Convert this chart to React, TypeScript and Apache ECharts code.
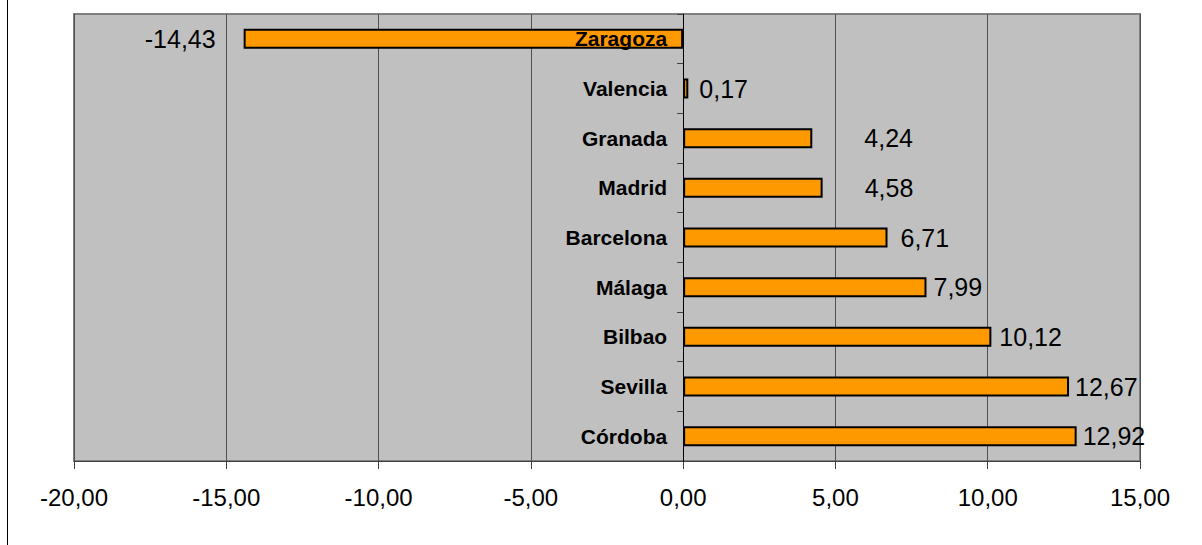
import React, { useEffect, useRef } from "react";
import * as echarts from "echarts";

const cities = ["Zaragoza", "Valencia", "Granada", "Madrid", "Barcelona", "Málaga", "Bilbao", "Sevilla", "Córdoba"];
const values = [-14.43, 0.17, 4.24, 4.58, 6.71, 7.99, 10.12, 12.67, 12.92];
const labelDistances = [28, 11, 52, 42, 13, 7, 8, 6, 6];
const xMin = -20;
const xMax = 15;
const xInterval = 5;

const FONT = 'Arial, "Liberation Sans", sans-serif';
const fmt = (v: number) => v.toFixed(2).replace(".", ",");

const GRID_LEFT = 74;
const GRID_RIGHT = 62;
const PLOT_W = 1202 - GRID_LEFT - GRID_RIGHT;

export default function App() {
  const ref = useRef<HTMLDivElement>(null);
  useEffect(() => {
    document.body.style.margin = "0";
    const chart = echarts.init(ref.current!, null, { renderer: "svg" });
    const zeroOffset = ((0 - xMin) / (xMax - xMin)) * PLOT_W;
    chart.setOption({
      animation: false,
      backgroundColor: "#ffffff",
      textStyle: { fontFamily: FONT },
      graphic: [
        { type: "line", shape: { x1: 7.5, y1: 0, x2: 7.5, y2: 545 }, style: { stroke: "#000", lineWidth: 1 } },
      ],
      grid: {
        left: GRID_LEFT,
        right: GRID_RIGHT,
        top: 14,
        bottom: 84,
        containLabel: false,
        outerBoundsMode: "none",
        show: true,
        backgroundColor: "#C0C0C0",
        borderColor: "#808080",
        borderWidth: 2,
      },
      xAxis: {
        type: "value",
        min: xMin,
        max: xMax,
        interval: xInterval,
        axisLine: { show: true, lineStyle: { color: "#404040", width: 1 } },
        axisTick: { show: true, length: 8, lineStyle: { color: "#404040" } },
        splitLine: { show: true, lineStyle: { color: "#505050", width: 1 } },
        axisLabel: { fontSize: 24, color: "#000", margin: 24, fontFamily: FONT, formatter: (v: number) => fmt(v) },
      },
      yAxis: {
        type: "category",
        inverse: true,
        data: cities,
        position: "left",
        offset: -zeroOffset,
        z: 5,
        axisLine: { show: true, onZero: false, lineStyle: { color: "#000", width: 1 } },
        axisTick: { show: true, length: 6, inside: false, lineStyle: { color: "#404040" } },
        axisLabel: { fontSize: 21, fontWeight: "bold", color: "#000", margin: 16, fontFamily: FONT },
        splitLine: { show: false },
      },
      series: [
        {
          type: "bar",
          barWidth: 20,
          data: values.map((v, i) => ({
            value: v,
            label: { position: v < 0 ? "left" : "right", distance: labelDistances[i] },
          })),
          itemStyle: { color: "#FF9900", borderColor: "#000", borderWidth: 2 },
          label: {
            show: true,
            fontSize: 25,
            color: "#000",
            fontFamily: FONT,
            formatter: (p: any) => fmt(p.value),
          },
        },
      ],
    });
    return () => chart.dispose();
  }, []);
  return <div ref={ref} style={{ width: 1202, height: 545 }} />;
}
